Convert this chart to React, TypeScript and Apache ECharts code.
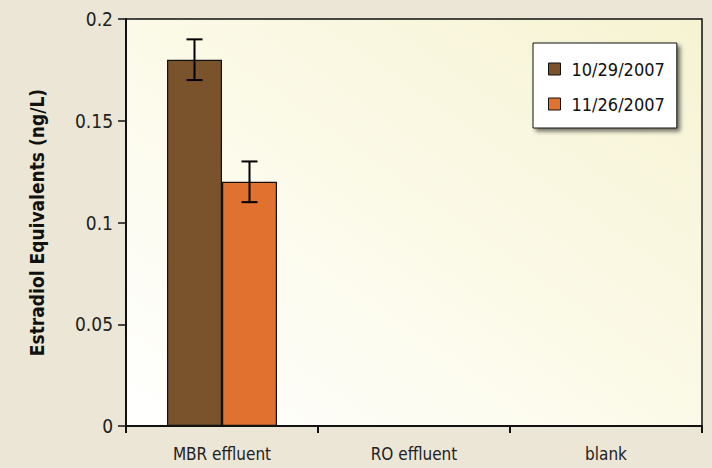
import React, { useEffect, useRef } from "react";
import * as echarts from "echarts";

const categories = ["MBR effluent", "RO effluent", "blank"];
const seriesNames = ["10/29/2007", "11/26/2007"];
const values1 = [0.18, null, null];
const values2 = [0.12, null, null];
const errLow1 = [0.17, null, null];
const errHigh1 = [0.19, null, null];
const errLow2 = [0.11, null, null];
const errHigh2 = [0.13, null, null];
const yTicks = [0, 0.05, 0.1, 0.15, 0.2];

const FONT = "'Liberation Sans Narrow', 'DejaVu Sans Condensed', 'Liberation Sans', sans-serif";
const BAR_W = 55;

export default function App() {
  const ref = useRef<HTMLDivElement>(null);
  useEffect(() => {
    const chart = echarts.init(ref.current!, null, { renderer: "svg" });
    const errData: any[] = [];
    [[errLow1, errHigh1], [errLow2, errHigh2]].forEach(([lo, hi], s) => {
      lo.forEach((v, i) => {
        if (v != null && hi[i] != null) errData.push([i, v, hi[i], s]);
      });
    });
    chart.setOption({
      animation: false,
      backgroundColor: "#ECE6D6",
      textStyle: { fontFamily: FONT },
      grid: {
        left: 126,
        right: 10,
        top: 19,
        bottom: 42,
        show: true,
        borderColor: "#111",
        borderWidth: 1.5,
        backgroundColor: {
          type: "linear",
          x: 0,
          y: 1,
          x2: 1,
          y2: 0,
          colorStops: [
            { offset: 0, color: "#FFFFFF" },
            { offset: 0.5, color: "#FBFAE8" },
            { offset: 1, color: "#F6F3D2" },
          ],
        },
      },
      legend: {
        orient: "vertical",
        left: 533,
        top: 43,
        padding: [17, 12, 15, 15],
        itemGap: 17,
        itemWidth: 12,
        itemHeight: 12,
        backgroundColor: "#FFFFFF",
        borderColor: "#111",
        borderWidth: 1,
        shadowBlur: 4,
        shadowColor: "rgba(0,0,0,0.55)",
        shadowOffsetX: 3,
        shadowOffsetY: 3,
        icon: "rect",
        itemStyle: { borderColor: "#111", borderWidth: 1 },
        textStyle: { fontFamily: FONT, fontSize: 18, color: "#111", padding: [0, 0, 0, 6] },
        data: seriesNames,
      },
      xAxis: {
        type: "category",
        data: categories,
        boundaryGap: true,
        axisLine: { lineStyle: { color: "#111", width: 2 } },
        axisTick: { show: true, length: 7, lineStyle: { color: "#111", width: 2 } },
        axisLabel: { color: "#222", fontSize: 17, fontFamily: FONT, margin: 19 },
        splitLine: { show: false },
      },
      yAxis: {
        type: "value",
        min: 0,
        max: 0.2,
        interval: 0.05,
        name: "Estradiol Equivalents (ng/L)",
        nameLocation: "middle",
        nameGap: 80,
        nameTextStyle: { fontSize: 19, fontWeight: "bold", color: "#111", fontFamily: FONT },
        axisLine: { show: true, lineStyle: { color: "#111", width: 2 } },
        axisTick: { show: true, length: 8, lineStyle: { color: "#111", width: 1.5 } },
        axisLabel: {
          color: "#222",
          fontSize: 19,
          fontFamily: FONT,
          margin: 13,
          formatter: (v: number) => {
            const t = yTicks.find((x) => Math.abs(x - v) < 1e-9);
            return String(t ?? v);
          },
        },
        splitLine: { show: false },
      },
      series: [
        {
          name: seriesNames[0],
          type: "bar",
          data: values1,
          barWidth: BAR_W,
          barGap: "0%",
          itemStyle: { color: "#7A522B", borderColor: "#111", borderWidth: 1.2 },
        },
        {
          name: seriesNames[1],
          type: "bar",
          data: values2,
          barWidth: BAR_W,
          barGap: "0%",
          itemStyle: { color: "#E0712F", borderColor: "#111", borderWidth: 1.2 },
        },
        {
          type: "custom",
          data: errData,
          z: 10,
          renderItem: (params: any, api: any) => {
            const cat = api.value(0);
            const s = api.value(3);
            const off = s === 0 ? -BAR_W / 2 : BAR_W / 2;
            const lo = api.coord([cat, api.value(1)]);
            const hi = api.coord([cat, api.value(2)]);
            const x = lo[0] + off;
            const cap = 8;
            const style = { stroke: "#000", lineWidth: 2 };
            return {
              type: "group",
              children: [
                { type: "line", shape: { x1: x, y1: lo[1], x2: x, y2: hi[1] }, style },
                { type: "line", shape: { x1: x - cap, y1: lo[1], x2: x + cap, y2: lo[1] }, style },
                { type: "line", shape: { x1: x - cap, y1: hi[1], x2: x + cap, y2: hi[1] }, style },
              ],
            };
          },
          encode: { x: 0, y: [1, 2] },
          tooltip: { show: false },
        },
      ],
    });
    return () => chart.dispose();
  }, []);
  return (
    <div
      ref={ref}
      style={{ position: "fixed", left: 0, top: 0, width: 712, height: 468 }}
    />
  );
}
